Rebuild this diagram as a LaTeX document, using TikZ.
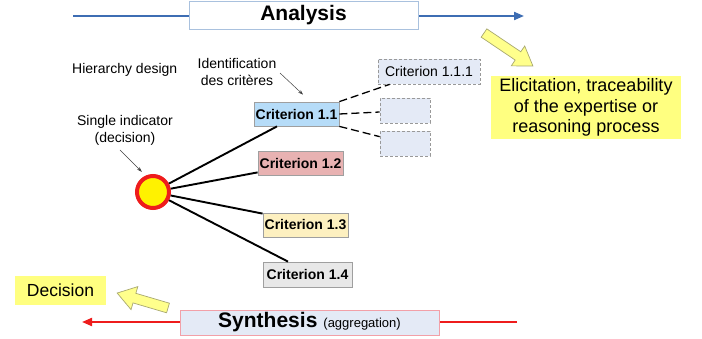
\documentclass[tikz,border=0pt]{standalone}
\usepackage{fontspec}
\setmainfont{Liberation Sans}
\usetikzlibrary{arrows.meta,calc}
\definecolor{lineblue}{HTML}{3D6DB3}
\definecolor{boxblue}{HTML}{A9C1DE}
\definecolor{redline}{HTML}{EE1C1C}
\definecolor{lavender}{HTML}{E4EAF6}
\definecolor{pinkline}{HTML}{F2A0A8}
\definecolor{c1fill}{HTML}{B6DCF8}
\definecolor{c2fill}{HTML}{E8B2B2}
\definecolor{c3fill}{HTML}{FDF0C0}
\definecolor{c4fill}{HTML}{E8E8E8}
\definecolor{ylw}{HTML}{FFFF80}
\definecolor{arrfill}{HTML}{FFFF8C}
\definecolor{arredge}{HTML}{A8A870}
\tikzset{
  crit/.style={draw=gray!75, line width=0.8pt, inner sep=0pt, minimum height=24pt,
    font=\fontsize{14}{16}\selectfont\bfseries},
  subbox/.style={draw=gray!80, dashed, dash pattern=on 3pt off 2pt, fill=lavender,
    line width=0.7pt, inner sep=0pt, minimum width=50pt, minimum height=25pt,
    font=\fontsize{14}{16}\selectfont},
  note/.style={align=center, inner sep=0pt, font=\fontsize{14}{17}\selectfont},
  branch/.style={line width=1.9pt, black},
  dashline/.style={line width=1.3pt, black, dash pattern=on 8pt off 4pt},
  pointer/.style={line width=0.5pt, black!75, -{Stealth[length=5pt,width=3.5pt]}},
  fatarrow/.style={fill=arrfill, draw=arredge, line width=0.7pt, line join=miter},
  ylwbox/.style={fill=ylw, inner sep=0pt}
}
\begin{document}
\begin{tikzpicture}[x=1pt,y=-1pt]
\useasboundingbox (0,0) rectangle (702,339);

% Analysis bar
\coordinate (aL) at (73,16);
\coordinate (aR) at (524,16);
\draw[lineblue, line width=2pt, -{Triangle[length=10pt,width=8pt]}] (aL) -- (aR);
\node[draw=boxblue, fill=white, line width=0.8pt, minimum width=229pt, minimum height=28pt, inner sep=0pt,
  font=\fontsize{21}{24}\selectfont\bfseries] (analysis) at (303.5,15) {Analysis};

% Synthesis bar
\coordinate (sL) at (82,322);
\coordinate (sR) at (517,322);
\draw[redline, line width=2pt, -{Triangle[length=10pt,width=8pt]}] (sR) -- (sL);
\node[draw=pinkline, fill=lavender, line width=0.8pt, minimum width=259pt, minimum height=25pt, inner sep=0pt]
  (synth) at (309.5,322.5) {{\fontsize{21}{24}\selectfont\bfseries Synthesis}\hspace{6pt}{\fontsize{13}{15}\selectfont(aggregation)}};

% Labels
\node[note, anchor=west] (hier) at (72,70) {Hierarchy design};
\node[note] (ident) at (237,71.5) {Identification\\des critères};
\node[note] (single) at (125,130.5) {Single indicator\\(decision)};

% Criteria
\node[crit, fill=c1fill, minimum width=85pt] (c11) at (296.5,114) {Criterion 1.1};
\node[crit, fill=c2fill, minimum width=85pt] (c12) at (300.5,163) {Criterion 1.2};
\node[crit, fill=c3fill, minimum width=85pt] (c13) at (305.5,225) {Criterion 1.3};
\node[crit, fill=c4fill, minimum width=89pt, minimum height=25pt] (c14) at (307.5,274.5) {Criterion 1.4};

% Sub-criteria
\node[subbox, minimum width=102pt] (c111) at (429,71.5) {Criterion 1.1.1};
\node[subbox] (s2) at (405,110.5) {};
\node[subbox] (s3) at (405,143.5) {};

% Single indicator circle
\node[circle, draw=redline, fill=yellow, line width=4pt, minimum size=32pt, inner sep=0pt] (circ) at (153,192) {};

% Branches
\draw[branch] (circ) -- ([xshift=-19.5pt]c11.south);
\draw[branch] (circ) -- ([yshift=3pt]c12.south west);
\draw[branch] (circ) -- ([yshift=-1pt]c13.north west);
\draw[branch] (circ) -- ([xshift=-19.5pt]c14.north);

% Dashed links
\draw[dashline] (c11.north east) -- ([xshift=12pt]c111.south west);
\draw[dashline] (c11.east) -- ([yshift=-1.5pt]s2.west);
\draw[dashline] (c11.south east) -- ([yshift=-6pt]s3.north west);

% Pointers
\coordinate (p1) at (280,73);
\draw[pointer] (p1) -- ([xshift=6.5pt,yshift=7pt]c11.north);
\coordinate (p2) at (120,150);
\draw[pointer] (p2) -- ([xshift=1.5pt,yshift=7.5pt]circ.north west);

% Yellow boxes
\node[ylwbox, minimum width=190pt, minimum height=63pt, align=center,
  font=\fontsize{18}{20.5}\selectfont] (elic) at (586,107.5)
  {Elicitation, traceability\\of the expertise or\\reasoning process};
\node[ylwbox, minimum width=91pt, minimum height=29pt, font=\fontsize{17.5}{20}\selectfont] (dec) at (60.5,290.5) {Decision};

% Fat arrows
\draw[fatarrow, shift={(484,33)}, rotate=-34]
  (0,-5) -- (41,-5) -- (41,-12) -- (59,0) -- (41,12) -- (41,5) -- (0,5) -- cycle;
\draw[fatarrow, shift={(168,308)}, rotate=163.6]
  (0,-5) -- (35,-5) -- (35,-12) -- (53,0) -- (35,12) -- (35,5) -- (0,5) -- cycle;
\end{tikzpicture}
\end{document}
